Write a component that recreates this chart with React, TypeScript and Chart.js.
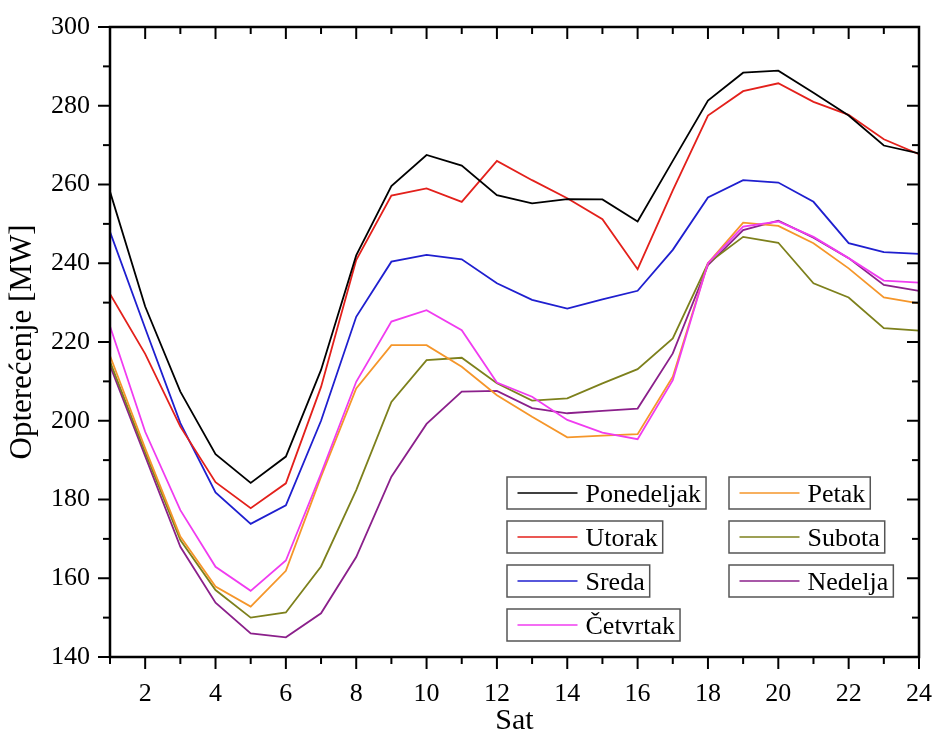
import React, { useEffect, useRef } from 'react';
import { Chart, registerables } from 'chart.js';

Chart.register(...registerables);

const hours = [1, 2, 3, 4, 5, 6, 7, 8, 9, 10, 11, 12, 13, 14, 15, 16, 17, 18, 19, 20, 21, 22, 23, 24];
const xTickValues = [2, 4, 6, 8, 10, 12, 14, 16, 18, 20, 22, 24];
const yTickValues = [140, 160, 180, 200, 220, 240, 260, 280, 300];
const yMinorStep = 10;

const seriesNames = ['Ponedeljak', 'Utorak', 'Sreda', 'Četvrtak', 'Petak', 'Subota', 'Nedelja'];

const ponedeljak = [258.2, 229, 207.4, 191.5, 184.2, 190.9, 212.9, 242, 259.6, 267.5, 264.8, 257.3, 255.2, 256.3, 256.2, 250.6, 266, 281.3, 288.4, 288.9, 283.3, 277.5, 269.9, 267.9];
const utorak = [232.2, 217, 198.5, 184.4, 177.8, 184.1, 208.6, 240.8, 257.2, 259, 255.6, 266, 261.1, 256.5, 251.2, 238.5, 258.5, 277.5, 283.7, 285.7, 281, 277.7, 271.5, 267.7];
const sreda = [248, 223.5, 199.4, 181.8, 173.8, 178.5, 200, 226.4, 240.4, 242.1, 241, 234.9, 230.7, 228.5, 230.8, 233, 243.4, 256.7, 261.1, 260.5, 255.6, 245.1, 242.8, 242.4];
const cetvrtak = [224, 197.2, 177.3, 162.9, 156.8, 164.5, 186.6, 209.9, 225.2, 228.1, 223, 209.7, 206.1, 200.2, 197, 195.3, 210.3, 240, 249.3, 250.6, 246.7, 241.3, 235.6, 235.1];
const petak = [216.5, 193, 170.6, 157.9, 152.8, 161.9, 185.8, 208.2, 219.2, 219.2, 213.7, 206.5, 201, 195.8, 196.2, 196.6, 211.2, 240, 250.3, 249.5, 245.1, 238.7, 231.3, 229.8];
const subota = [215, 192, 169.7, 157, 150, 151.3, 163, 182.4, 204.8, 215.4, 216, 209.5, 205.1, 205.7, 209.5, 213.1, 220.9, 240, 246.7, 245.2, 234.9, 231.3, 223.5, 222.9];
const nedelja = [214, 191, 168, 153.8, 146, 145, 151.1, 165.4, 185.8, 199.2, 207.4, 207.6, 203.2, 201.9, 202.5, 203.1, 217.1, 239.5, 248.4, 250.8, 246.5, 241.3, 234.5, 233];

const seriesValues = [ponedeljak, utorak, sreda, cetvrtak, petak, subota, nedelja];
const seriesColors = ['#000000', '#e3201b', '#1f1fcf', '#f03cf0', '#f5962a', '#7d801c', '#8b208b'];

const FONT = '"Liberation Serif", "Times New Roman", serif';

const frameTicksPlugin = {
  id: 'frameTicks',
  afterDatasetsDraw(chart: any) {
    const { ctx, chartArea: a, scales } = chart;
    const x = scales.x;
    const y = scales.y;
    ctx.save();
    ctx.strokeStyle = '#000';
    ctx.lineWidth = 2;
    ctx.lineCap = 'butt';
    const seg = (x1: number, y1: number, x2: number, y2: number) => {
      ctx.beginPath();
      ctx.moveTo(x1, y1);
      ctx.lineTo(x2, y2);
      ctx.stroke();
    };
    for (const h of hours) {
      const px = x.getPixelForValue(h);
      const len = xTickValues.includes(h) ? 12 : 7;
      seg(px, a.bottom, px, a.bottom + len);
      seg(px, a.top, px, a.top + len);
    }
    const yMin = yTickValues[0];
    const yMax = yTickValues[yTickValues.length - 1];
    for (let v = yMin; v <= yMax; v += yMinorStep) {
      const py = y.getPixelForValue(v);
      const len = yTickValues.includes(v) ? 12 : 7;
      seg(a.left - len, py, a.left, py);
      seg(a.right - len, py, a.right, py);
    }
    ctx.lineWidth = 2.5;
    ctx.strokeRect(a.left, a.top, a.right - a.left, a.bottom - a.top);
    ctx.restore();
  },
};

const boxLegendPlugin = {
  id: 'boxLegend',
  afterDraw(chart: any) {
    const { ctx } = chart;
    const colX = [507, 729];
    const rowTop = 477;
    const rowGap = 44;
    const boxH = 32;
    ctx.save();
    ctx.font = `26px ${FONT}`;
    chart.data.datasets.forEach((ds: any, i: number) => {
      const col = i < 4 ? 0 : 1;
      const row = i < 4 ? i : i - 4;
      const bx = colX[col];
      const by = rowTop + row * rowGap;
      const tw = ctx.measureText(ds.label).width;
      const bw = 10.5 + 60 + 8 + tw + 5;
      ctx.fillStyle = '#fff';
      ctx.fillRect(bx, by, bw, boxH);
      ctx.strokeStyle = '#555';
      ctx.lineWidth = 1.5;
      ctx.strokeRect(bx, by, bw, boxH);
      const cy = by + boxH / 2;
      ctx.strokeStyle = ds.borderColor;
      ctx.lineWidth = 1.6;
      ctx.beginPath();
      ctx.moveTo(bx + 10.5, cy);
      ctx.lineTo(bx + 70.5, cy);
      ctx.stroke();
      ctx.fillStyle = '#000';
      ctx.textAlign = 'left';
      ctx.textBaseline = 'alphabetic';
      ctx.fillText(ds.label, bx + 78.5, cy + 9);
    });
    ctx.restore();
  },
};

export default function App() {
  const ref = useRef<HTMLCanvasElement>(null);
  useEffect(() => {
    if (!ref.current) return;
    const chart = new Chart(ref.current, {
      type: 'line',
      data: {
        labels: hours,
        datasets: seriesNames.map((name, i) => ({
          label: name,
          data: hours.map((h, j) => ({ x: h, y: seriesValues[i][j] })),
          borderColor: seriesColors[i],
          backgroundColor: seriesColors[i],
          borderWidth: 1.8,
          pointRadius: 0,
          tension: 0,
          fill: false,
        })),
      },
      options: {
        responsive: false,
        animation: false,
        devicePixelRatio: 1,
        layout: { padding: { top: 27, right: 16, left: 0, bottom: 0 } },
        plugins: {
          legend: { display: false },
          tooltip: { enabled: false },
        },
        scales: {
          x: {
            type: 'linear',
            min: 1,
            max: 24,
            afterBuildTicks: (s: any) => {
              s.ticks = xTickValues.map((v) => ({ value: v }));
            },
            afterFit: (s: any) => {
              s.height = 76;
            },
            grid: { display: false, drawTicks: true, tickLength: 22 },
            border: { display: false },
            ticks: {
              font: { family: FONT, size: 26 },
              color: '#000',
              padding: 0,
              maxRotation: 0,
              autoSkip: false,
            },
            title: {
              display: true,
              text: 'Sat',
              color: '#000',
              font: { family: FONT, size: 30, lineHeight: 1 },
              padding: { top: 0, bottom: -3 },
            },
          },
          y: {
            type: 'linear',
            min: 140,
            max: 300,
            afterBuildTicks: (s: any) => {
              s.ticks = yTickValues.map((v) => ({ value: v }));
            },
            afterFit: (s: any) => {
              s.width = 110;
            },
            grid: { display: false, drawTicks: true, tickLength: 12 },
            border: { display: false },
            ticks: {
              font: { family: FONT, size: 26 },
              color: '#000',
              padding: 8,
            },
            title: {
              display: true,
              text: 'Opterećenje [MW]',
              color: '#000',
              font: { family: FONT, size: 31, lineHeight: 1 },
              padding: { top: 7, bottom: 0 },
            },
          },
        },
      },
      plugins: [frameTicksPlugin, boxLegendPlugin],
    });
    return () => chart.destroy();
  }, []);
  return (
    <div style={{ position: 'fixed', left: 0, top: 0, width: 935, height: 733, background: '#fff' }}>
      <canvas ref={ref} width={935} height={733} style={{ display: 'block', width: 935, height: 733 }} />
    </div>
  );
}
